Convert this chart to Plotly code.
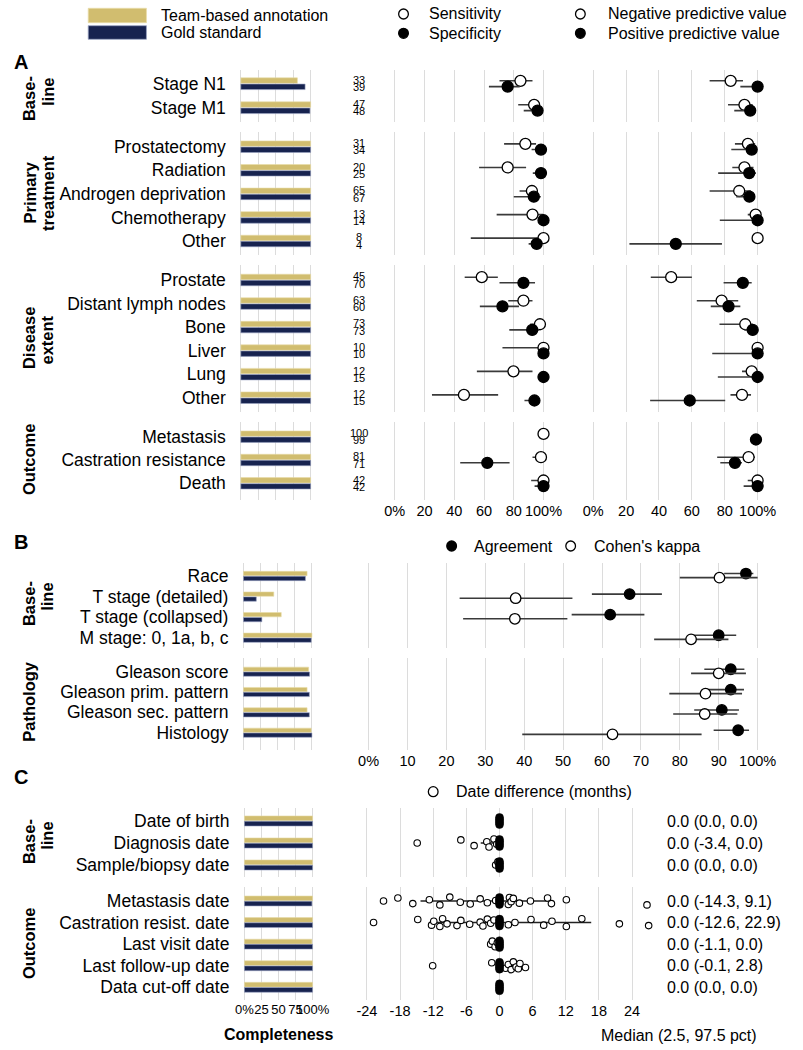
import plotly.graph_objects as go

W, H = 803, 1050
FONT = "Liberation Sans, Arial, Helvetica, sans-serif"
GOLD = "#D1BD6F"
NAVY = "#17234F"
GRID = "#DCDCDC"
ERR = "#3a3a3a"

# ================= Panel A data =================
A_group_titles = [["Base-", "line"], ["Primary", "treatment"], ["Disease", "extent"], ["Outcome"]]
A_group_sizes = [2, 5, 6, 3]
A_labels = ["Stage N1", "Stage M1",
            "Prostatectomy", "Radiation", "Androgen deprivation", "Chemotherapy", "Other",
            "Prostate", "Distant lymph nodes", "Bone", "Liver", "Lung", "Other",
            "Metastasis", "Castration resistance", "Death"]
A_team_complete = [81, 100, 100, 100, 100, 100, 100, 100, 100, 100, 100, 100, 100, 100, 100, 100]
A_gold_complete = [92, 99, 100, 100, 100, 100, 100, 100, 100, 100, 100, 100, 100, 100, 100, 100]
A_n_team = [33, 47, 31, 20, 65, 13, 8, 45, 63, 73, 10, 12, 12, 100, 81, 42]
A_n_gold = [39, 48, 34, 25, 67, 14, 4, 70, 60, 73, 10, 15, 15, 99, 71, 42]

sens    = [84.5, 93.7, 87.8, 75.9, 92.2, 92.6, 100, 58.5, 86.5, 97.6, 100, 79.8, 46.5, 100, 98.3, 100]
sens_lo = [70.4, 83.0, 73.5, 56.7, 83.9, 68.5, 51.1, 47.0, 76.3, 91.0, 72.4, 55.2, 25.0, 96.3, 92.6, 91.7]
sens_hi = [92.6, 97.6, 95.0, 88.3, 96.1, 99.8, 100, 69.3, 92.6, 99.7, 100, 92.6, 69.5, 100, 100, 100]
spec    = [75.9, 96.0, 98.3, 98.3, 93.5, 100, 95.4, 86.5, 72.4, 92.4, 100, 100, 93.9, None, 62.2, 100]
spec_lo = [63.3, 86.7, 92.0, 92.8, 80.0, 98.0, 90.0, 70.4, 57.2, 77.0, 97.0, 97.0, 87.2, None, 44.0, 94.0]
spec_hi = [84.0, 99.5, 99.8, 99.8, 98.2, 100, 98.0, 94.3, 83.5, 97.0, 100, 100, 97.0, None, 77.2, 100]
npv     = [83.6, 92.0, 94.1, 92.0, 88.8, 98.8, 100, 47.4, 78.1, 92.5, 100, 96.4, 90.5, None, 94.5, 100]
npv_lo  = [70.8, 82.0, 86.2, 84.6, 70.8, 94.0, 100, 35.0, 63.0, 76.8, 97.0, 90.5, 83.5, None, 75.4, 94.0]
npv_hi  = [91.1, 97.0, 98.5, 97.5, 96.0, 99.9, 100, 60.0, 88.2, 97.0, 100, 99.5, 96.0, None, 98.4, 100]
ppv     = [100, 95.5, 96.4, 94.9, 95.0, 100, 50.2, 91.0, 82.3, 97.0, 100, 100, 58.7, 99.0, 86.2, 100]
ppv_lo  = [89.5, 85.8, 84.0, 76.0, 87.0, 77.0, 22.0, 79.3, 71.5, 92.0, 72.4, 75.8, 34.6, 97.0, 77.3, 91.5]
ppv_hi  = [100, 99.0, 99.5, 99.0, 98.0, 100, 78.3, 96.4, 89.5, 99.3, 100, 100, 80.3, 100, 90.5, 100]

# ================= Panel B data =================
B_group_titles = [["Base-", "line"], ["Pathology"]]
B_group_sizes = [4, 4]
B_labels = ["Race", "T stage (detailed)", "T stage (collapsed)", "M stage: 0, 1a, b, c",
            "Gleason score", "Gleason prim. pattern", "Gleason sec. pattern", "Histology"]
B_team_complete = [92.9, 44.3, 55.2, 100, 95.2, 92.9, 92.9, 99]
B_gold_complete = [90.5, 18.8, 26.9, 99, 96.6, 96.2, 96.2, 100]
agree    = [97.0, 67.1, 62.1, 90.0, 93.1, 93.1, 90.8, 95.0]
agree_lo = [91.4, 57.4, 52.2, 83.5, 86.3, 87.0, 83.7, 88.7]
agree_hi = [98.9, 75.4, 70.9, 94.5, 96.6, 96.5, 95.2, 97.8]
kappa    = [90.2, 37.8, 37.6, 82.9, 90.0, 86.6, 86.4, 62.7]
kappa_lo = [80.0, 23.4, 24.3, 73.4, 82.9, 77.3, 78.3, 39.5]
kappa_hi = [100, 52.4, 51.1, 92.5, 97.0, 96.0, 94.8, 85.6]

# ================= Panel C data =================
C_group_titles = [["Base-", "line"], ["Outcome"]]
C_group_sizes = [3, 5]
C_labels = ["Date of birth", "Diagnosis date", "Sample/biopsy date",
            "Metastasis date", "Castration resist. date", "Last visit date",
            "Last follow-up date", "Data cut-off date"]
C_team_complete = [100, 100, 100, 100, 100, 99, 100, 100]
C_gold_complete = [100, 100, 100, 99, 100, 100, 100, 100]
C_median = [0.0, 0.0, 0.0, 0.0, 0.0, 0.0, 0.0, 0.0]
C_lo = [0.0, -3.4, 0.0, -14.3, -12.6, -1.1, -0.1, 0.0]
C_hi = [0.0, 0.0, 0.0, 9.1, 16.6, 0.0, 2.8, 0.0]
C_text = ["0.0 (0.0, 0.0)", "0.0 (-3.4, 0.0)", "0.0 (0.0, 0.0)", "0.0 (-14.3, 9.1)",
          "0.0 (-12.6, 22.9)", "0.0 (-1.1, 0.0)", "0.0 (-0.1, 2.8)", "0.0 (0.0, 0.0)"]
C_points = [
    [],
    [-14.9, -7.0, -4.6, -2.3, -1.9, -1.0, -0.5],
    [-0.7, -0.3],
    [-21.0, -18.4, -15.7, -12.7, -10.8, -9.0, -7.1, -5.3, -3.5, -2.2, -0.7, 1.6, 1.8, 2.1,
     2.5, 3.6, 5.6, 8.7, 9.4, 12.1, 26.7],
    [-22.8, -14.8, -12.3, -11.9, -10.8, -10.3, -9.5, -7.7, -7.0, -5.4, -3.5, -3.0, -2.2,
     -1.6, -1.0, 1.6, 2.8, 5.7, 8.0, 9.5, 12.1, 14.9, 21.7, 27.0],
    [-1.6, -1.3, -0.8, -0.4],
    [-12.1, -1.4, 1.1, 1.6, 2.1, 2.5, 3.0, 3.4, 3.7, 4.7],
    [],
]

A_ticks = [0, 20, 40, 60, 80, 100]
A_ticktext = ["0%", "20", "40", "60", "80", "100%"]
B_ticks = [0, 10, 20, 30, 40, 50, 60, 70, 80, 90, 100]
B_ticktext = ["0%", "10", "20", "30", "40", "50", "60", "70", "80", "90", "100%"]
C_ticks = [-24, -18, -12, -6, 0, 6, 12, 18, 24]
C_ticktext = ["-24", "-18", "-12", "-6", "0", "6", "12", "18", "24"]
BAR_ticks = [0, 25, 50, 75, 100]
BAR_ticktext = ["0%", "25", "50", "75", "100%"]

# ================= helpers =================
def px_x(p):
    return p / W


def px_y(p):
    return 1 - p / H


layout_axes = {}
cnt = {"x": 0, "y": 0}
traces = []
annotations = []
shapes = []


def xref(k):
    return "x" if k == 1 else f"x{k}"


def yref(k):
    return "y" if k == 1 else f"y{k}"


def yname(k):
    return "yaxis" if k == 1 else f"yaxis{k}"


def add_y(top, bottom, first, last, n, labels):
    cnt["y"] += 1
    k = cnt["y"]
    sp = (last - first) / (n - 1)
    v_top = -(first - top) / sp
    v_bot = (n - 1) + (bottom - last) / sp
    layout_axes[yname(k)] = dict(
        domain=[px_y(bottom), px_y(top)], range=[v_bot, v_top],
        showgrid=False, zeroline=False, showline=False,
        tickmode="array", tickvals=list(range(n)), ticktext=labels,
        ticks="", ticklabelstandoff=13,
        tickfont=dict(size=17.5, color="black", family=FONT),
    )
    return k


def add_x(yk, px0, ppu, vmin, vmax, tickvals, ticktext=None, show=False, fsize=14.5):
    cnt["x"] += 1
    k = cnt["x"]
    layout_axes["xaxis" if k == 1 else f"xaxis{k}"] = dict(
        domain=[px_x(px0 + vmin * ppu), px_x(px0 + vmax * ppu)],
        range=[vmin, vmax], anchor=yref(yk),
        showgrid=True, gridcolor=GRID, gridwidth=1.3,
        zeroline=False, showline=False,
        tickmode="array", tickvals=tickvals, ticktext=ticktext,
        ticks="", showticklabels=show, tickangle=0,
        tickfont=dict(size=fsize, color="black", family=FONT),
    )
    return k


def bars(team, gold, rows, xk, yk, off=0.13, wid=0.23):
    traces.append(go.Bar(x=team, y=[r - off for r in rows], orientation="h", width=wid,
                         marker=dict(color=GOLD, line=dict(color="#E8DCA8", width=0.6)),
                         xaxis=xref(xk), yaxis=yref(yk), hoverinfo="skip"))
    traces.append(go.Bar(x=gold, y=[r + off for r in rows], orientation="h", width=wid,
                         marker=dict(color=NAVY, line=dict(color="#9AA3C2", width=0.6)),
                         xaxis=xref(xk), yaxis=yref(yk), hoverinfo="skip"))


def pts(vals, lo, hi, rows, off, xk, yk, filled, size=11):
    x, y, ep, em = [], [], [], []
    for r, v, l, h in zip(rows, vals, lo, hi):
        if v is None:
            continue
        x.append(v)
        y.append(r + off)
        ep.append(h - v)
        em.append(v - l)
    traces.append(go.Scatter(
        x=x, y=y, mode="markers", xaxis=xref(xk), yaxis=yref(yk), cliponaxis=False,
        marker=dict(symbol="circle", size=size, color="black" if filled else "white",
                    line=dict(color="black", width=1.3)),
        error_x=dict(type="data", symmetric=False, array=ep, arrayminus=em,
                     color=ERR, thickness=1.6, width=0),
        hoverinfo="skip"))


def group_title(lines, xs, ycs):
    for t, x, yc in zip(lines, xs, ycs):
        annotations.append(dict(text=f"<b>{t}</b>", x=px_x(x), y=px_y(yc), xref="paper", yref="paper",
                                textangle=-90, showarrow=False, xanchor="center", yanchor="middle",
                                font=dict(size=16.5, color="black", family=FONT)))


def text(t, x, y, size=16, anchor="left", bold=False):
    annotations.append(dict(text=f"<b>{t}</b>" if bold else t, x=px_x(x), y=px_y(y),
                            xref="paper", yref="paper", showarrow=False,
                            xanchor=anchor, yanchor="middle",
                            font=dict(size=size, color="black", family=FONT)))


def circle(cx, cy, filled, r=5):
    shapes.append(dict(type="circle", xref="paper", yref="paper",
                       x0=px_x(cx - r), x1=px_x(cx + r), y0=px_y(cy + r), y1=px_y(cy - r),
                       fillcolor="black" if filled else "white",
                       line=dict(color="black", width=1.3)))


# ================= Panel A =================
A_geom = [(70, 121.7, 83.7, 107.7), (132.3, 255, 146.7, 241),
          (265, 411.7, 280, 397.7), (421.7, 500, 436.7, 483.3)]
A_title_y = [(99, 91.5), (192.5, 192.5), (338, 340), (459,)]
start = 0
for g, n in enumerate(A_group_sizes):
    idx = list(range(start, start + n))
    rows = list(range(n))
    top, bot, first, last = A_geom[g]
    yk = add_y(top, bot, first, last, n, [A_labels[i] for i in idx])
    last_g = g == len(A_group_sizes) - 1
    xb = add_x(yk, 240, 0.72, -1.5, 101.5, BAR_ticks)
    layout_axes[yname(yk)]["anchor"] = xref(xb)
    xs = add_x(yk, 398.7, 1.533, -3, 103, A_ticks, A_ticktext, show=last_g)
    xn = add_x(yk, 603.3, 1.694, -3, 103, A_ticks, A_ticktext, show=last_g)
    bars([A_team_complete[i] for i in idx], [A_gold_complete[i] for i in idx], rows, xb, yk)
    pts([sens[i] for i in idx], [sens_lo[i] for i in idx], [sens_hi[i] for i in idx],
        rows, -0.12, xs, yk, False)
    pts([spec[i] for i in idx], [spec_lo[i] for i in idx], [spec_hi[i] for i in idx],
        rows, 0.12, xs, yk, True)
    pts([npv[i] for i in idx], [npv_lo[i] for i in idx], [npv_hi[i] for i in idx],
        rows, -0.12, xn, yk, False)
    pts([ppv[i] for i in idx], [ppv_lo[i] for i in idx], [ppv_hi[i] for i in idx],
        rows, 0.12, xn, yk, True)
    for r, i in zip(rows, idx):
        for val, off in ((A_n_team[i], -0.155), (A_n_gold[i], 0.155)):
            annotations.append(dict(text=str(val), x=px_x(362), y=r + off, xref="paper",
                                    yref=yref(yk), showarrow=False, xanchor="center",
                                    yanchor="middle",
                                    font=dict(size=11, color="black", family=FONT)))
    group_title(A_group_titles[g], [21.7, 40.7][:len(A_group_titles[g])], A_title_y[g])
    start += n

# ================= Panel B =================
B_geom = [(563.3, 648.3, 576, 637.7), (658.3, 750, 671.7, 732.7)]
B_title_y = [(604, 597), (701.7,)]
start = 0
for g, n in enumerate(B_group_sizes):
    idx = list(range(start, start + n))
    rows = list(range(n))
    top, bot, first, last = B_geom[g]
    yk = add_y(top, bot, first, last, n, [B_labels[i] for i in idx])
    last_g = g == len(B_group_sizes) - 1
    xb = add_x(yk, 242.7, 0.706, -1.5, 101.5, BAR_ticks)
    layout_axes[yname(yk)]["anchor"] = xref(xb)
    xa = add_x(yk, 371.7, 4.01, -1, 101, B_ticks, B_ticktext, show=last_g)
    bars([B_team_complete[i] for i in idx], [B_gold_complete[i] for i in idx], rows, xb, yk,
         off=0.12, wid=0.21)
    pts([agree[i] for i in idx], [agree_lo[i] for i in idx], [agree_hi[i] for i in idx],
        rows, -0.12, xa, yk, True, size=10.5)
    pts([kappa[i] for i in idx], [kappa_lo[i] for i in idx], [kappa_hi[i] for i in idx],
        rows, 0.08, xa, yk, False, size=10.5)
    group_title(B_group_titles[g], [21.7, 40.0][:len(B_group_titles[g])], B_title_y[g])
    start += n

# ================= Panel C =================
C_geom = [(808.3, 876.7, 821, 865), (886.7, 1000, 901, 987.3)]
C_title_y = [(842, 836), (943,)]
JIT = [0.0, -0.14, 0.12, -0.06, 0.18, -0.18, 0.06, 0.14, -0.1, 0.08, -0.02, 0.16, -0.16, 0.03, -0.12, 0.1]
BLOB = [-0.16, -0.08, 0.0, 0.08, 0.16]
start = 0
for g, n in enumerate(C_group_sizes):
    idx = list(range(start, start + n))
    rows = list(range(n))
    top, bot, first, last = C_geom[g]
    yk = add_y(top, bot, first, last, n, [C_labels[i] for i in idx])
    last_g = g == len(C_group_sizes) - 1
    xb = add_x(yk, 243.7, 0.703, -1.5, 101.5, BAR_ticks, BAR_ticktext, show=last_g, fsize=13)
    layout_axes[yname(yk)]["anchor"] = xref(xb)
    xd = add_x(yk, 506.65, 5.694, -24.6, 27.6, C_ticks, C_ticktext, show=last_g)
    bars([C_team_complete[i] for i in idx], [C_gold_complete[i] for i in idx], rows, xb, yk,
         off=0.12, wid=0.22)
    # percentile range lines
    traces.append(go.Scatter(
        x=[C_median[i] for i in idx], y=rows, mode="markers", xaxis=xref(xd), yaxis=yref(yk),
        marker=dict(size=1, color="rgba(0,0,0,0)"), cliponaxis=False,
        error_x=dict(type="data", symmetric=False,
                     array=[C_hi[i] - C_median[i] for i in idx],
                     arrayminus=[C_median[i] - C_lo[i] for i in idx],
                     color="#222222", thickness=1.5, width=0),
        hoverinfo="skip"))
    # individual date differences
    px_, py_ = [], []
    for r, i in zip(rows, idx):
        for j, v in enumerate(C_points[i]):
            px_.append(v)
            py_.append(r + JIT[j % len(JIT)])
    traces.append(go.Scatter(
        x=px_, y=py_, mode="markers", xaxis=xref(xd), yaxis=yref(yk), cliponaxis=False,
        marker=dict(symbol="circle", size=6.5, color="white", line=dict(color="black", width=1.1)),
        hoverinfo="skip"))
    # medians
    mx, my = [], []
    for r, i in zip(rows, idx):
        for b in BLOB:
            mx.append(C_median[i])
            my.append(r + b)
    traces.append(go.Scatter(
        x=mx, y=my, mode="markers", xaxis=xref(xd), yaxis=yref(yk), cliponaxis=False,
        marker=dict(symbol="circle", size=8, color="black", line=dict(color="black", width=0.5)),
        hoverinfo="skip"))
    for r, i in zip(rows, idx):
        annotations.append(dict(text=C_text[i], x=px_x(677.7), y=r, xref="paper", yref=yref(yk),
                                showarrow=False, xanchor="left", yanchor="middle",
                                font=dict(size=16, color="black", family=FONT)))
    group_title(C_group_titles[g], [21.7, 40.0][:len(C_group_titles[g])], C_title_y[g])
    start += n

# ================= Legends, letters, titles =================
shapes.append(dict(type="rect", xref="paper", yref="paper", x0=px_x(82.7), x1=px_x(142.7),
                   y0=px_y(22.7), y1=px_y(8.3), fillcolor=GOLD, line=dict(color="#E8DCA8", width=0.8)))
shapes.append(dict(type="rect", xref="paper", yref="paper", x0=px_x(82.7), x1=px_x(142.7),
                   y0=px_y(39.3), y1=px_y(25.7), fillcolor=NAVY, line=dict(color="#9AA3C2", width=0.8)))
text("Team-based annotation", 155.7, 15.5)
text("Gold standard", 155.7, 32.5)
circle(407.7, 14, False)
circle(407.7, 33.3, True)
text("Sensitivity", 431.7, 14)
text("Specificity", 431.7, 33.3)
circle(590, 14, False)
circle(590, 33.3, True)
text("Negative predictive value", 616, 14)
text("Positive predictive value", 616, 33.3)
circle(457.3, 546, True)
text("Agreement", 478, 546)
circle(580, 546, False)
text("Cohen's kappa", 601.7, 546)
circle(438.3, 791.7, False)
text("Date difference (months)", 460, 791.7)

text("A", 13, 62, size=20, anchor="center", bold=True)
text("B", 13, 542, size=20, anchor="center", bold=True)
text("C", 13, 777, size=20, anchor="center", bold=True)
text("Completeness", 278.7, 1034, size=16, anchor="center", bold=True)
text("Median (2.5, 97.5 pct)", 691.7, 1035, size=16, anchor="center")

fig = go.Figure(data=traces)
fig.update_layout(
    width=W, height=H, margin=dict(l=0, r=0, t=0, b=0),
    paper_bgcolor="white", plot_bgcolor="white",
    showlegend=False, barmode="overlay", hovermode=False,
    font=dict(family=FONT, color="black"),
    annotations=annotations, shapes=shapes,
    **layout_axes,
)
fig.write_html("out.html", config={"displayModeBar": False},
               post_script="document.body.style.margin='0px';")
